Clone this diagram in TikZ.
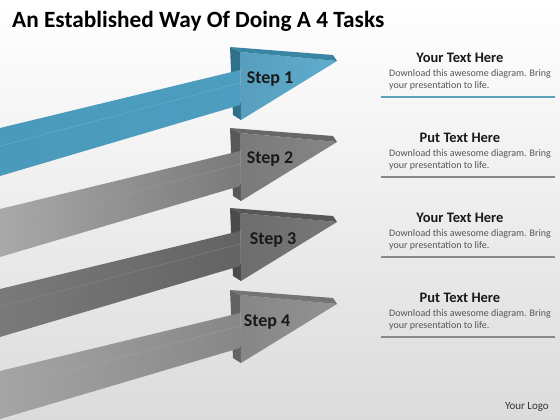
\documentclass[tikz,border=0pt]{standalone}
\usepackage{fontspec}
\setmainfont{Carlito}
\usetikzlibrary{positioning}

% arrow colours: shaft right, shaft left, head face, head edge
\definecolor{aoneR}{HTML}{4C9DBF}
\definecolor{aoneL}{HTML}{4A9ABB}
\definecolor{aoneF}{HTML}{5FACCE}
\definecolor{aoneT}{HTML}{3A84A4}
\definecolor{atwoR}{HTML}{7A7A7A}
\definecolor{atwoL}{HTML}{A9A9A9}
\definecolor{atwoF}{HTML}{858585}
\definecolor{atwoT}{HTML}{686868}
\definecolor{athreeR}{HTML}{636363}
\definecolor{athreeL}{HTML}{7A7A7A}
\definecolor{athreeF}{HTML}{777777}
\definecolor{athreeT}{HTML}{575757}
\definecolor{afourR}{HTML}{878787}
\definecolor{afourL}{HTML}{A5A5A5}
\definecolor{afourF}{HTML}{929292}
\definecolor{afourT}{HTML}{747474}
\definecolor{lineblue}{HTML}{5FA3BA}
\definecolor{linegray}{HTML}{8A8A8A}
\definecolor{bodytext}{HTML}{555555}

\tikzset{
  steplabel/.style={font=\bfseries\fontsize{18}{20}\selectfont, text=black!90},
  headline/.style={anchor=base, font=\bfseries\fontsize{14.5}{16}\selectfont, text=black!90},
  bodyline/.style={anchor=north west, inner sep=0pt, align=left,
    font=\fontsize{10}{11.5}\selectfont, text=bodytext}
}

\begin{document}
\begin{tikzpicture}[x=1pt, y=-1pt]
  % Background
  \shade[top color=white, bottom color=black!14] (0,0) rectangle (560,420);
  \useasboundingbox (0,0) rectangle (560,420);

  % Title
  \node[anchor=base west, inner sep=0pt, font=\bfseries\fontsize{23.3}{27}\selectfont] (title)
    at (12,28) {An Established Way Of Doing A 4 Tasks};

  % Draw the four arrows
  \foreach \i/\dy/\sR/\sL/\hF/\hT/\lx/\ly in {1/0/aoneR/aoneL/aoneF/aoneT/270/79,
      2/81/atwoR/atwoL/atwoF/atwoT/270/78, 3/161/athreeR/athreeL/athreeF/athreeT/273/79,
      4/243/afourR/afourL/afourF/afourT/267/79} {
    \begin{scope}[shift={(0,\dy)}]
      % back face of the head
      \fill[\hT!85!black] (230,47) -- (240,52) -- (241,120) -- (233,115) -- cycle;
      % shaft
      \shade[left color=\sL, right color=\sR] (0,128) -- (240,70) -- (240,105) -- (0,176) -- cycle;
      \draw[\sR!70!white, opacity=0.4, line width=0.8pt] (0,146) -- (240,83);
      % head
      \shade[left color=\hF!92!black, right color=\hF] (240,52) -- (337,61) -- (241,120) -- cycle;
      \fill[\hT] (230,47) -- (333,55) -- (337,61) -- (240,52) -- cycle;
    \end{scope}
    \node[steplabel] (step\i) at (\lx,{\dy+\ly}) {Step \i};
  }

  % Text blocks on the right
  \foreach \i/\heading/\lc in {1/Your Text Here/lineblue, 2/Put Text Here/linegray,
      3/Your Text Here/linegray, 4/Put Text Here/linegray} {
    \node[headline] (head\i) at (460,{62.5+80*(\i-1)}) {\heading};
    \node[bodyline] (body\i) at (389,{69.5+80*(\i-1)})
      {Download this awesome diagram. Bring\\your presentation to life.};
    \draw[\lc, line width=2pt] (381,{97+80*(\i-1)}) -- (555,{97+80*(\i-1)});
  }

  % Logo
  \node[anchor=base east, inner sep=0pt, font=\fontsize{11}{13}\selectfont, text=black!80] (logo)
    at (549,409) {Your Logo};
\end{tikzpicture}
\end{document}
